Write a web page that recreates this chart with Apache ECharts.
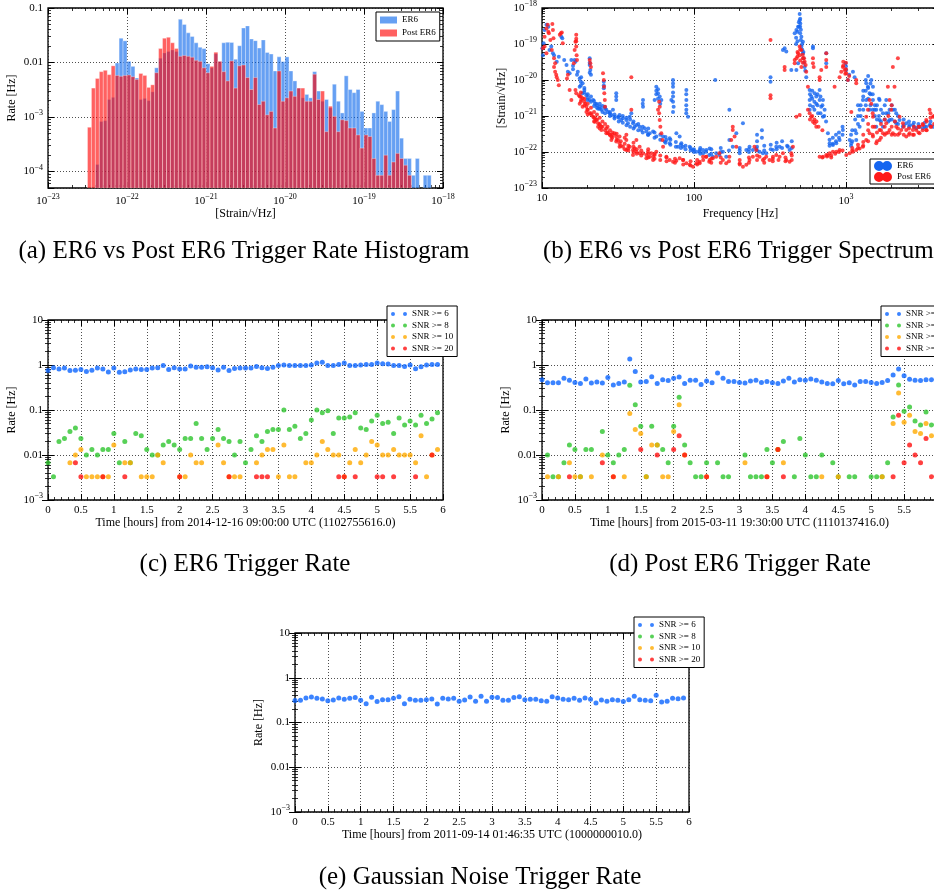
<!DOCTYPE html>
<html>
<head>
<meta charset="utf-8">
<script src="https://cdn.jsdelivr.net/npm/echarts@6/dist/echarts.min.js"></script>
<style>
html, body { margin: 0; padding: 0; background: #fff; }
#main { width: 934px; height: 892px; }
</style>
</head>
<body>
<div id="main"></div>
<script>
var SERIF = '"Liberation Serif", "Times New Roman", serif';

// (a) trigger rate histogram: log10 bins starting at -22.5, 0.05 decade wide
var histLogStart = -22.5;
var histLogStep = 0.05;
var histER6 = [0, 0, 1.35e-4, 8.3e-4, 8.6e-4, 2.1e-3, 2.3e-3, 9.8e-3, 2.8e-2, 2.5e-2,
  1.05e-2, 8.5e-3, 5.2e-3, 2.1e-3, 2.2e-3, 2.0e-3, 2.9e-3, 8.0e-3, 1.2e-2, 1.5e-2,
  1.6e-2, 1.7e-2, 1.6e-2, 6.2e-2, 5.0e-2, 3.5e-2, 3.0e-2, 2.3e-2, 1.9e-2, 1.8e-2,
  9.5e-3, 8e-3, 1.45e-2, 1.05e-2, 2.3e-2, 2.35e-2, 0.0234, 0.0115, 0.0203, 0.043,
  0.047, 0.027, 0.0252, 0.0184, 0.026, 0.0153, 0.0143, 0.007, 0.0127, 0.0104,
  0.0127, 0.007, 0.0046, 0.0034, 0.00225, 0.0026, 0.00225, 0.0068, 0.003, 0.00195,
  0.0021, 0.00147, 0.004, 0.00195, 0.00119, 0.0057, 0.0032, 0.0028, 0.0032, 0.00127,
  0.00063, 0.00063, 0.00119, 0.00195, 0.00169, 0.00127, 0.00083, 0.00137, 0.003, 0.00041,
  0.000174, 0.000174, 0.0000855, 0.000174, 0, 0.0000855, 0.0000855, 0];
var histPost = [6.5e-4, 3.4e-3, 5.1e-3, 6.8e-3, 7.2e-3, 6.0e-3, 8.7e-3, 5.8e-3, 5.6e-3, 5.8e-3,
  5.9e-3, 5.5e-3, 4.9e-3, 6.3e-3, 5.8e-3, 3.5e-3, 3.9e-3, 6.5e-3, 1.8e-2, 2.8e-2,
  2.9e-2, 2.3e-2, 1.8e-2, 1.3e-2, 1.35e-2, 1.3e-2, 1.25e-2, 1.1e-2, 1.05e-2, 8e-3,
  6.5e-3, 8.5e-3, 1.55e-2, 1.05e-2, 6.8e-3, 4.6e-3, 0.0107, 0.0034, 0.0087, 0.009,
  0.0053, 0.0032, 0.0053, 0.0017, 0.00195, 0.0011, 0.00127, 0.00063, 0.007, 0.00195,
  0.00225, 0.003, 0.0024, 0.0034, 0.0034, 0.00195, 0.00195, 0.0061, 0.0021, 0.003,
  0.00054, 0.00158, 0.00103, 0.00054, 0.00089, 0.00086, 0.00063, 0.00063, 0.00047, 0.00027,
  0.00047, 0.00044, 0.000174, 0.0000855, 0.0000855, 0.0002, 0.0000855, 0.00015, 0.000216, 0.000174,
  0.000131, 0.0000855, 0, 0, 0, 0, 0, 0];

// (b) trigger spectrum: [frequency Hz, strain/rtHz]
var specER6 = [
  [10.05,7.6e-20],[10.15,4.9e-20],[10.25,1.05e-19],[10.4,2.45e-19],[10.7,3.4e-19],[11.0,3.0e-19],[11.2,6.8e-20],[11.5,8.5e-20],
  [11.8,5.5e-20],[12.0,4.9e-20],[12.5,3.2e-20],[12.9,4.4e-20],[13.4,1.6e-19],[13.6,1.44e-19],[14.0,3.6e-20],[14.5,2.6e-20],
  [14.8,1.7e-20],[15.2,1.55e-20],[15.6,3.6e-20],[16.4,3.6e-20],[16.6,3.2e-20],[17.2,1.7e-20],[17.7,1.1e-20],[18.1,1.2e-20],
  [18.5,8.1e-21],[19.0,5.3e-21],[19.6,3.8e-21],[19.9,2.8e-21],[20.6,4.0e-20],[20.6,2.6e-20],[20.8,1.9e-20],[21.0,1.4e-20],
  [21.7,2.8e-21],[22.8,2.2e-21],[24.0,1.8e-21],[24.6,1.5e-21],[25.5,8.9e-21],[25.5,5.9e-21],[25.9,1.8e-21],[26.5,1.5e-21],
  [27.9,1.2e-21],[28.6,1.07e-21],[29.3,1.5e-21],[30.8,4.3e-21],[30.8,2.8e-21],[31.6,9.6e-22],[32.4,1.07e-21],[34.1,8.7e-22],
  [35.9,7.8e-22],[37.8,9.6e-22],[38.7,1.2e-21],[39.7,6.3e-22],[41.8,5.6e-22],[43.9,5.0e-22],[46.2,2.8e-21],[46.2,1.8e-21],
  [47.4,4.6e-22],[48.6,3.7e-22],[51.1,3.3e-22],[53.8,3.7e-22],[55.1,2.8e-21],[56.5,6.5e-21],[58.0,4.3e-21],[59.5,3.5e-21],
  [61.0,2.8e-21],[62.6,2.7e-22],[65.8,2.15e-22],[69.2,2.4e-22],[71.0,2.8e-21],[72.8,1.0e-20],[72.8,6.5e-21],[72.8,3.5e-21],
  [73.5,1.8e-21],[76.6,3.3e-22],[80.5,2.7e-22],[82.6,1.75e-22],[84.7,1.4e-22],[89.1,5.3e-21],[89.1,2.8e-21],[89.1,1.5e-21],
  [91.4,9.6e-22],[93.7,1.4e-22],[98.6,1.14e-22],[109,1.02e-22],[120.6,1.14e-22],[126.8,1.26e-22],
  [17.7,6.5e-21],[18.5,4.3e-21],[20.6,2.8e-21],[22.3,2.2e-21],[23.4,1.6e-21],[27.2,1.3e-21],[30.0,9.6e-22],[33.2,7.8e-22],
  [36.8,6.3e-22],[40.7,5.0e-22],[45.0,4.1e-22],[49.8,3.0e-22],[56.5,2.7e-22],[64.2,1.95e-22],[69.2,1.75e-22],[78.5,1.4e-22],
  [103.7,1.02e-22],[114.7,1.14e-22],
  [109,1.14e-22],[115,9.2e-23],[120,1.02e-22],[126,8.3e-23],[133,7.4e-23],[138,1.0e-20],[140,9.2e-23],[147,8.3e-23],
  [155,1.02e-22],[163,7.4e-23],[171,1.5e-21],[171,2.15e-22],[180,1.4e-22],[190,3.3e-22],[200,9.2e-23],[210,6.3e-22],
  [221,1.14e-22],[232,1.4e-22],[244,1.14e-22],[257,1.26e-22],[270,1.02e-22],[284,9.2e-23],[299,9.2e-23],[319,1.2e-20],
  [319,8.9e-21],[331,1.14e-22],[348,1.4e-22],[366,1.4e-22],[385,6.8e-20],[395,7.6e-20],[405,6.2e-20],[415,1.4e-22],
  [426,1.14e-22],[437,1.9e-20],[460,2.0e-19],[472,2.45e-19],[484,3.0e-19],[496,6.8e-19],[496,4.6e-19],[501,3.7e-19],
  [509,1.6e-19],[509,8.5e-20],[521,1.16e-19],[521,5.5e-20],[535,2.3e-20],[548,1.2e-20],[472,1.9e-20],[484,2.9e-20],
  [577,5.3e-21],[577,2.8e-21],[592,3.5e-21],[607,8.5e-20],[607,7.6e-20],[622,4.3e-21],[638,2.2e-21],[671,2.8e-21],
  [688,1.8e-21],[706,9.6e-22],[742,5.5e-20],[742,2.9e-20],[761,3.3e-22],[781,1.75e-22],[821,1.56e-22],[864,1.75e-22],
  [908,2.15e-22],[955,4.1e-22],[993,2.9e-20],[1005,1.9e-20],[1030,1.0e-20],[1058,2.15e-22],[1085,1.75e-22],[1112,1.7e-20],
  [1140,1.2e-20],[1169,3.3e-22],[1230,1.5e-21],[1293,2.8e-21],[1360,8.1e-21],[1395,6.5e-21],[1431,4.3e-21],[1469,1.0e-20],
  [1506,2.8e-21],[1545,1.5e-21],[1583,5.0e-22],[1665,7.8e-22],[1751,5.0e-22],[1841,1.2e-21],[1936,7.8e-22],[2036,1.5e-21],
  [2142,1.2e-21],[2253,7.8e-22],[2493,6.3e-22],[2757,5.6e-22],[3051,5.0e-22],[3375,5.0e-22],[3735,5.0e-22],
  [577,1.5e-21],[607,1.8e-21],[638,3.5e-21],[655,1.2e-21],[671,5.3e-21],[706,2.8e-21],[724,1.5e-21],
  [1169,2.15e-22],[1230,5.0e-22],[1293,7.8e-22],[1360,2.8e-21],[1431,1.5e-21],[1506,6.5e-21],[1583,1.5e-21],[1665,2.8e-21],
  [1751,1.2e-21],[1841,2.8e-21],[1936,1.5e-21],[2142,6.3e-22],[2370,5.0e-22],[2622,5.6e-22],[2901,4.6e-22],[3209,4.6e-22],
  [3551,5.6e-22]
];
// denser parts of the ER6 cloud (lower band, lines, 500 Hz peak, 1-2 kHz band)
var specER6Band = [
  [16,2.5e-20],[16,2.0e-20],[17,1.4e-20],[18,9e-21],[18,7e-21],[19,6e-21],[19,4.5e-21],[20,4e-21],[20,3.2e-21],
  [21,3.5e-21],[21,2.5e-21],[22,2.6e-21],[22,1.9e-21],[23,2e-21],[23,1.7e-21],[24,1.6e-21],[24,2.2e-21],[25,1.3e-21],
  [25,1.9e-21],[26,1.2e-21],[26,1.6e-21],[28,1e-21],[28,1.3e-21],[30,8.5e-22],[30,1.1e-21],[32,7e-22],[32,9e-22],
  [34,6.5e-22],[34,1e-21],[36,5.5e-22],[36,9e-22],[38,5e-22],[38,8e-22],[40,4.5e-22],[40,7e-22],[43,4e-22],[43,6e-22],
  [46,3.5e-22],[46,5e-22],[50,3e-22],[50,4.5e-22],[55,2.5e-22],[55,3.5e-22],[60,2.2e-22],[60,3e-22],[65,1.8e-22],
  [65,2.6e-22],[70,1.6e-22],[70,2.2e-22],[76,1.4e-22],[76,1.9e-22],[82,1.3e-22],[82,1.6e-22],[88,1.2e-22],[88,1.5e-22],
  [95,1.1e-22],[95,1.3e-22],[100,1e-22],[100,1.2e-22],
  [56.5,4e-21],[56.5,5e-21],[58,5.5e-21],[58,3e-21],[60,2.2e-21],[72.8,8e-21],[72.8,4.5e-21],[72.8,2.5e-21],[72.8,1.3e-21],
  [89,4e-21],[89,2e-21],[89,1.2e-21],[46,2.2e-21],[25.5,7e-21],[20.6,3e-20],[20.6,1.6e-20],[30.8,3.5e-21],
  [110,9e-23],[110,1.3e-22],[130,9e-23],[130,1.2e-22],[150,1e-22],[150,1.3e-22],[170,1.1e-22],[200,1.1e-22],[200,1.3e-22],
  [230,1e-22],[230,1.2e-22],[260,1.1e-22],[260,1.4e-22],[290,1.1e-22],[290,1.5e-22],[320,1.2e-22],[320,1.6e-22],
  [350,1.2e-22],[350,1.8e-22],[380,1.3e-22],[380,2e-22],[410,1.5e-22],[440,1.3e-22],[440,2e-22],
  [260,2e-22],[260,3e-22],[280,2.5e-22],[280,4e-22],
  [470,1e-19],[470,1.5e-19],[480,1.2e-19],[480,2.2e-19],[490,3e-19],[490,4e-19],[500,5e-19],[500,3e-19],[500,2e-19],
  [505,2.5e-19],[505,1.3e-19],[515,7e-20],[515,1e-19],[525,4e-20],[525,6e-20],[530,3e-20],[540,1.8e-20],
  [580,2e-21],[580,4e-21],[600,3e-21],[600,5e-21],[620,2.5e-21],[620,1.5e-21],[650,2e-21],[650,4e-21],[680,1.2e-21],
  [680,3.5e-21],[700,2e-21],[720,1e-21],[740,7e-22],
  [780,1.5e-22],[780,2.2e-22],[820,1.7e-22],[820,2.5e-22],[860,2e-22],[860,3e-22],[900,2.5e-22],[900,3.5e-22],
  [950,3e-22],[950,5e-22],[1000,2.4e-20],[1050,1.4e-20],[1080,1.5e-22],[1080,3e-22],[1100,2e-22],[1100,4e-22],
  [1150,4e-22],[1150,8e-22],[1200,6e-22],[1200,1e-21],[1200,2e-21],[1250,1e-21],[1250,2e-21],[1300,1.5e-21],
  [1300,3.5e-21],[1300,5e-21],[1350,2e-21],[1350,5e-21],[1350,1e-20],[1400,3e-21],[1400,6e-21],[1400,1.3e-20],
  [1450,2e-21],[1450,4e-21],[1450,8e-21],[1500,1.5e-21],[1500,4e-21],[1550,1e-21],[1550,2e-21],[1600,8e-22],
  [1600,2e-21],[1650,1e-21],[1650,3e-21],[1700,7e-22],[1700,1.5e-21],[1800,8e-22],[1800,2e-21],[1900,7e-22],
  [1900,1.2e-21],[2000,8e-22],[2000,2e-21],[2100,7e-22],[2100,1.5e-21],[2200,6e-22],[2200,1e-21],[2400,5.5e-22],
  [2400,8e-22],[2600,5e-22],[2600,7e-22],[2800,5e-22],[2800,6.5e-22],[3000,5e-22],[3000,6e-22],[3300,5e-22],
  [3300,6.5e-22],[3600,5.5e-22],[3600,7e-22],[3900,6e-22]
];
var specPost = [
  [10.15,7.6e-20],[10.4,1.6e-19],[10.7,2.7e-19],[10.9,3.4e-19],[11.0,2.2e-19],[11.1,2.0e-19],[11.35,1.3e-19],[11.6,6.8e-20],
  [11.7,3.6e-19],[11.8,2.45e-19],[11.9,1.44e-19],[12.0,2.3e-20],[12.2,1.7e-20],[12.4,1.4e-20],[12.5,1.2e-20],[12.7,1.0e-20],
  [12.9,7.2e-21],[13.1,1.8e-19],[13.3,2.0e-19],[13.5,2.1e-19],[13.7,1.05e-19],[14.6,1.1e-20],[14.8,1.4e-20],[15.2,5.3e-21],
  [15.6,2.8e-21],[16.2,2.9e-20],[16.4,6.8e-20],[16.6,1.16e-19],[16.8,1.8e-19],[16.8,8.5e-20],[16.9,4.9e-20],[17.0,3.6e-20],
  [16.6,5.3e-21],[16.8,4.3e-21],[17.5,3.8e-21],[17.7,3.5e-21],[18.1,2.8e-21],[18.5,3.1e-21],[19.0,2.5e-21],[19.3,2.2e-21],
  [19.6,1.8e-21],[19.9,1.5e-21],[20.6,3.6e-20],[20.8,2.9e-20],[21.0,2.3e-20],[20.6,1.2e-21],[21.7,9.6e-22],[22.3,8.7e-22],
  [22.8,7.8e-22],[23.4,6.3e-22],[24.0,5.6e-22],[24.6,5.0e-22],[25.2,1.55e-20],[25.5,1.0e-20],[25.6,6.5e-21],[25.7,4.3e-21],
  [25.9,2.8e-21],[26.0,1.8e-21],[26.5,4.6e-22],[27.2,3.3e-22],[27.9,3.0e-22],[28.6,2.7e-22],[29.3,3.0e-22],[30.0,3.3e-22],
  [30.8,2.7e-22],[31.6,2.15e-22],[32.4,1.75e-22],[34.1,1.4e-22],[35.9,2.15e-22],[36.8,1.26e-22],[37.8,1.4e-22],[38.7,1.2e-20],
  [38.7,1.5e-21],[39.7,1.14e-22],[40.7,1.26e-22],[41.8,1.02e-22],[43.9,1.4e-22],[46.2,9.2e-23],[48.6,8.3e-23],[49.8,1.02e-22],
  [51.1,7.4e-23],[52.4,9.2e-23],[53.8,7.4e-23],[55.1,8.3e-23],[56.5,1.02e-22],[58.0,1.5e-21],[59.5,1.8e-21],[59.5,7.8e-22],
  [60.1,5.0e-22],[61.0,3.3e-22],[62.0,2.15e-22],[62.6,1.4e-22],[65.8,7.4e-23],[69.2,6.0e-23],[72.8,5.4e-23],[76.6,5.7e-23],
  [80.5,6.7e-23],[84.7,6.0e-23],[89.1,4.9e-23],[93.7,4.4e-23],[98.6,3.9e-23],[103.7,4.9e-23],[109,5.4e-23],[114.7,7.4e-23],
  [120.6,7.4e-23],[126.8,6.0e-23],
  [17.7,2.2e-21],[18.5,1.8e-21],[19.6,1.3e-21],[21.2,1.07e-21],[22.3,6.9e-22],[23.4,5.0e-22],[24.6,4.1e-22],[26.5,3.3e-22],
  [28.6,2.15e-22],[30.8,1.95e-22],[32.4,1.4e-22],[35.9,1.14e-22],[39.7,8.3e-23],[43.9,9.2e-23],[48.6,6.7e-23],[53.8,6.0e-23],
  [32.4,2.7e-22],[35.9,3.0e-22],[41.8,2.15e-22],[10.4,8.5e-20],[10.7,5.5e-20],[12.0,4.0e-20],[12.2,2.9e-20],
  [109,4.9e-23],[115,6.0e-23],[120,7.4e-23],[126,5.4e-23],[133,6.7e-23],[140,7.4e-23],[147,9.2e-23],[155,6.0e-23],
  [163,4.9e-23],[171,7.4e-23],[176,2.15e-22],[180,4.1e-22],[180,5.0e-22],[185,2.7e-22],[190,1.4e-22],[200,4.9e-23],
  [210,3.9e-23],[221,4.4e-23],[232,6.0e-23],[244,7.4e-23],[250,1.4e-22],[257,1.14e-22],[270,7.4e-23],[284,6.0e-23],
  [299,7.4e-23],[314,6.0e-23],[319,1.3e-19],[319,3.8e-21],[319,3.1e-21],[331,7.4e-23],[348,8.3e-23],[366,7.4e-23],
  [385,9.2e-23],[395,2.3e-20],[395,1.9e-20],[405,6.0e-23],[426,5.4e-23],[437,9.2e-23],[448,1.4e-22],[460,2.9e-20],
  [460,3.6e-20],[472,4.0e-20],[484,5.5e-20],[496,8.5e-20],[496,4.9e-20],[509,6.8e-20],[509,2.3e-20],[521,4.0e-20],
  [535,3.2e-20],[543,2.6e-20],[548,1.7e-20],[562,6.5e-21],[472,9.6e-22],[496,1.07e-21],[562,1.5e-21],[577,1.2e-21],
  [592,9.6e-22],[607,6.9e-22],[622,6.3e-22],[638,5.0e-22],[607,4.0e-20],[607,2.9e-20],[613,2.3e-20],[671,1.0e-20],
  [671,1.2e-20],[688,1.9e-20],[742,5.5e-20],[742,3.6e-20],[742,2.3e-20],[671,7.4e-23],[706,7.4e-23],[742,8.3e-23],
  [781,9.2e-23],[821,1.02e-22],[842,6.5e-21],[864,1.02e-22],[908,1.14e-22],[908,1.2e-20],[931,1.7e-20],[955,2.3e-20],
  [960,3.2e-20],[980,1.9e-20],[1005,1.55e-20],[1030,1.0e-20],[1058,9.2e-23],[1085,1.3e-21],[1112,1.02e-22],[1169,1.0e-20],
  [1169,8.1e-21],[1169,1.14e-22],[1230,1.26e-22],[1293,1.4e-22],[1360,9.6e-22],[1395,1.5e-21],[1431,2.8e-21],[1469,2.2e-21],
  [1506,9.6e-22],[1545,5.0e-22],[1583,1.75e-22],[1665,2.15e-22],[1751,3.3e-22],[1841,6.3e-22],[1888,6.5e-21],[1936,2.8e-21],
  [1985,1.5e-21],[2036,2.3e-20],[2088,6.5e-21],[2142,5.0e-22],[2197,4.0e-20],[2253,9.6e-22],[2311,4.1e-22],[2370,6.3e-22],
  [2493,4.1e-22],[2622,3.3e-22],[2757,4.1e-22],[2901,4.1e-22],[3051,5.0e-22],[3209,5.6e-22],[3375,7.8e-22],[3551,1.5e-21],
  [3735,9.6e-22],
  [1360,2.15e-22],[1431,3.3e-22],[1506,2.7e-22],[1665,4.1e-22],[1841,3.3e-22],[1936,4.1e-22],[2036,3.3e-22],[2253,3.3e-22],
  [2493,2.7e-22],[2757,3.0e-22],[3051,3.3e-22],[3375,4.1e-22],[3640,5.0e-22],[1005,8.3e-23],[800,7.0e-23],[760,8.0e-23]
];
// denser parts of the Post ER6 cloud
var specPostBand = [
  [18,2.5e-21],[18,3.5e-21],[18,4.5e-21],[19,2e-21],[19,3e-21],[20,1.5e-21],[20,2.2e-21],[20,1.1e-21],[21,1.2e-21],
  [21,1.7e-21],[22,9e-22],[22,1.3e-21],[22,7e-22],[23,8e-22],[23,1.1e-21],[24,6e-22],[24,9e-22],[24,4.5e-22],[25,5e-22],
  [25,7e-22],[26,4e-22],[26,6e-22],[27,3.5e-22],[27,5e-22],[28,3e-22],[28,4e-22],[29,2.5e-22],[29,3.5e-22],[31,2.2e-22],
  [31,3.2e-22],[33,2e-22],[33,1.5e-22],[35,1.7e-22],[35,1.2e-22],[35,2.5e-22],[37,1.5e-22],[37,1.1e-22],[40,1e-22],
  [40,1.4e-22],[40,1.8e-22],[42,9e-23],[42,1.2e-22],[45,8e-23],[45,1.1e-22],[50,7e-23],[50,9e-23],[50,1.2e-22],[55,6.5e-23],
  [55,9e-23],[60,6e-23],[60,8e-23],[66,5.5e-23],[66,7e-23],[75,5e-23],[75,6.5e-23],[85,4.5e-23],[85,6e-23],[95,4.2e-23],
  [95,5.5e-23],[105,4.5e-23],[105,6e-23],
  [130,5e-23],[130,6.5e-23],[150,5e-23],[150,7e-23],[170,5.5e-23],[200,6e-23],[200,4.5e-23],[230,5e-23],[230,7e-23],
  [260,6e-23],[260,8e-23],[290,5e-23],[290,6.5e-23],[330,5.5e-23],[330,6.5e-23],[360,6e-23],[400,7e-23],[400,5.5e-23],
  [440,6e-23],[440,8e-23],[59,1.2e-21],[59,2.5e-21],[16.8,1.2e-19],[16.8,1.4e-19],
  [1100,1.1e-22],[1100,1.3e-22],[1200,1.3e-22],[1200,1.6e-22],[1300,1.5e-22],[1300,1.9e-22],[1300,3e-22],[1400,2e-22],
  [1400,4e-22],[1400,6e-22],[1500,3e-22],[1500,5e-22],[1500,1.2e-21],[1600,2e-22],[1600,3.5e-22],[1700,2.5e-22],
  [1700,4e-22],[1700,6e-22],[1800,3e-22],[1800,5e-22],[1800,8e-22],[1900,3.5e-22],[1900,1e-21],[2000,3e-22],[2000,5e-22],
  [2000,2e-21],[2100,3e-22],[2100,7e-22],[2200,3e-22],[2200,4.5e-22],[2400,3e-22],[2400,5e-22],[2600,3e-22],[2600,4.5e-22],
  [2800,3e-22],[2800,5e-22],[3000,3.5e-22],[3000,5e-22],[3200,4e-22],[3200,6e-22],[3400,4e-22],[3400,7e-22],[3600,5e-22],
  [3600,9e-22],[3600,1.2e-21],[3800,6e-22],[3800,1e-21],
  [700,7e-23],[750,7.5e-23],[800,8e-23],[850,9e-23],[900,1e-22],[950,1.1e-22],
  [480,4.5e-20],[480,6e-20],[500,7e-20],[500,3.5e-20],[520,3e-20],[520,5e-20],[530,4e-20],
  [580,8e-22],[600,1e-21],[620,8e-22],[640,7e-22],[660,5e-22],[700,4e-22],
  [960,2.5e-20],[1000,2e-20],[1000,3e-20],[1050,1.3e-20],[990,1.5e-20]
];

// (c)-(e) rates [Hz] in 5 minute bins over 6 hours (null = no trigger)
var binHours = 5 / 60;
var c_snr6 = [0.75,0.87,0.81,0.86,0.75,0.76,0.79,0.72,0.76,0.86, 0.81,0.70,0.86,0.69,0.71,0.77,0.81,0.79,0.79,0.86,
  0.87,0.98,0.79,0.87,0.81,0.81,0.95,0.89,0.89,0.92, 0.87,0.77,0.89,0.75,0.84,0.86,0.86,0.86,0.93,0.87,
  0.84,0.89,0.97,1.0,0.98,0.98,0.98,0.97,1.0,1.11, 1.15,0.98,0.98,1.03,1.11,0.97,0.97,1.0,1.02,1.03,
  1.11,1.07,1.05,0.97,0.98,0.93,1.0,0.83,0.92,1.0, 1.02,1.02];
var c_snr8 = [0.0067,0.0033,0.02,0.0233,0.0333,0.04,0.0233,0.01,0.0133,0.01, 0.0133,0.0133,0.03,0.0067,0.02,0.0067,0.03,0.0267,0.0133,0.01,
  0.01,0.0167,0.02,0.0167,0.0133,0.0233,0.0233,0.05,0.0233,0.0133, 0.0233,0.0367,0.0233,0.02,0.01,0.02,0.0067,0.0133,0.0267,0.02,
  0.0333,0.0367,0.0367,0.1,0.0367,0.0433,0.0233,0.03,0.06,0.1, 0.0867,0.0967,0.03,0.0667,0.0667,0.07,0.0867,0.04,0.0367,0.0567,
  0.0767,0.05,0.0533,0.03,0.0667,0.0467,0.0567,0.0467,0.0767,0.05, 0.0633,0.0867];
var c_snr10 = [null,null,null,null,0.0067,0.01,0.0133,0.0033,0.0033,0.0033, 0.0033,0.0033,0.0167,null,0.0067,0.0067,null,0.0033,0.0033,0.0033,
  0.01,0.0067,null,null,0.0033,0.0033,0.01,0.0067,0.0067,null, null,0.0167,0.0067,0.0033,0.0033,0.0033,null,null,0.0067,0.01,
  0.0133,0.0133,0.0033,0.0167,0.0033,0.0033,null,0.0067,0.0067,0.01, 0.02,0.0133,0.01,0.01,0.0033,0.0067,0.0133,0.0067,0.01,0.02,
  0.0167,0.01,0.01,0.0133,0.01,0.01,0.01,0.0067,0.0267,0.0033, 0.01,0.0133];
var c_snr20 = [null,null,null,null,null,0.0067,0.0033,null,null,null, 0.0033,null,null,null,0.0033,null,null,null,null,null,
  null,null,null,null,0.0033,null,null,null,null,null, null,null,null,0.0033,null,null,null,null,0.0033,0.0033,
  0.0033,null,null,null,null,null,null,null,null,null, null,null,null,0.0033,0.0033,null,0.0033,null,null,null,
  0.0033,0.0033,null,0.0033,null,null,null,0.0033,null,null, 0.01,null];

var d_snr6 = [0.47,0.405,0.405,0.405,0.51,0.46,0.41,0.39,0.49,0.40, 0.42,0.40,0.53,0.36,0.39,0.42,1.36,0.72,0.42,0.43,
  0.55,0.39,0.47,0.45,0.51,0.54,0.39,0.46,0.46,0.37, 0.44,0.405,0.66,0.51,0.43,0.43,0.41,0.40,0.44,0.46,
  0.41,0.43,0.405,0.39,0.44,0.51,0.42,0.47,0.46,0.49, 0.46,0.42,0.39,0.385,0.45,0.385,0.405,0.36,0.43,0.43,
  0.41,0.39,0.41,0.45,0.6,0.81,0.58,0.48,0.46,0.45, 0.47,0.47];
var d_snr8 = [null,0.01,0.0033,0.0033,0.0067,0.0167,0.0133,0.0033,0.0133,0.0133, null,0.0333,0.01,0.0067,0.01,0.0133,0.353,0.13,0.0433,0.0033,
  0.0433,0.0167,0.0133,0.0067,0.0433,0.193,0.0167,0.0067,0.0033,0.0033, 0.0067,null,0.0067,0.0033,0.0033,null,null,0.01,0.0033,0.0033,
  0.0033,0.0133,0.0067,0.0133,0.02,null,0.0033,0.0233,0.01,0.0033, 0.0033,0.01,null,0.0067,0.0033,null,0.0033,0.0033,null,null,
  0.0033,0.0033,0.0033,0.0067,0.07,0.36,0.0933,0.117,0.0567,0.0467, 0.09,0.0467];
var d_snr10 = [null,0.0033,null,0.0033,null,0.0067,0.0033,0.0033,null,0.0033, null,0.01,null,0.0033,null,0.0033,0.0833,0.0367,0.03,0.0033,
  0.0167,0.0167,0.0033,0.0033,0.0333,0.13,0.01,null,null,null, 0.0033,null,null,null,null,null,null,0.0067,null,null,
  null,0.0033,null,0.0133,0.0067,null,null,null,null,null, null,0.0033,null,null,0.0033,null,null,null,null,null,
  null,null,0.0033,null,0.05,0.24,0.0533,0.0767,0.0333,0.03, 0.05,0.0267];
var d_snr20 = [null,null,null,null,null,0.0033,null,null,null,null, null,0.0067,null,0.0033,null,null,null,null,0.0133,null,
  null,0.01,null,null,0.0133,0.0267,0.01,null,null,null, 0.0033,null,null,null,null,null,null,null,null,null,
  null,0.0033,null,0.0133,0.0033,null,null,null,null,null, null,null,null,null,null,null,null,null,null,null,
  null,null,null,null,0.0033,0.0767,0.0067,0.0167,0.01,0.0067, 0.0233,0.0033];

var e_snr6 = [0.31,0.313,0.353,0.372,0.347,0.336,0.308,0.319,0.353,0.33, 0.347,0.36,0.313,0.264,0.366,0.293,0.324,0.324,0.347,0.378,
  0.264,0.33,0.313,0.313,0.324,0.336,0.26,0.347,0.336,0.347, 0.30,0.319,0.372,0.30,0.385,0.30,0.366,0.36,0.313,0.313,
  0.36,0.378,0.324,0.33,0.33,0.308,0.30,0.378,0.353,0.33, 0.324,0.347,0.313,0.353,0.33,0.273,0.319,0.30,0.324,0.313,
  0.293,0.324,0.385,0.324,0.313,0.308,0.405,0.288,0.30,0.347, 0.34,0.353];
var e_snr8 = [];
var e_snr10 = [];
var e_snr20 = [];

var snrNames = ['SNR >= 6', 'SNR >= 8', 'SNR >= 10', 'SNR >= 20'];
var snrColors = ['#0a64ff', '#2ec52e', '#ffaa00', '#ff1010'];
var specColors = ['#1565f0', '#ff1a1a'];

// strain axes are plotted in units of 1e-23 (ECharts rounds away ticks as small as 1e-23)
var STRAIN_UNIT = 1e-23;
var STRAIN_EXP = -23;

var myChart = echarts.init(document.getElementById('main'), null, {renderer: 'canvas'});

function expStr(e) { return e < 0 ? '\u2212' + (-e) : String(e); }
var labelRich = {
  b: {fontFamily: SERIF, fontSize: 11, color: '#000'},
  s: {fontFamily: SERIF, fontSize: 8, color: '#000', padding: [0, 0, 8, 0]}
};
// 10^n labels, plain decimals between plainFrom and plainTo
function logFmt(plainFrom, plainTo, shift) {
  return function (v) {
    var e = Math.round(Math.log(v) / Math.LN10) + (shift || 0);
    if (e >= plainFrom && e <= plainTo) {
      return '{b|' + (e >= 0 ? String(Math.pow(10, e)) : Math.pow(10, e).toFixed(-e)) + '}';
    }
    return '{b|10}{s|' + expStr(e) + '}';
  };
}

var gridLine = {show: true, lineStyle: {color: '#222', width: 0.8, type: [1, 2]}};
function axis(o) {
  var a = {
    gridIndex: o.grid, type: o.type, position: o.pos, min: o.min, max: o.max,
    axisLine: {show: false},
    axisTick: {show: true, inside: true, length: 6, lineStyle: {color: '#000', width: 1}},
    minorTick: {show: true, splitNumber: o.minor, length: 3, lineStyle: {color: '#000', width: 0.8}},
    splitLine: o.main ? gridLine : {show: false},
    axisLabel: {show: false}
  };
  if (o.type === 'log') a.logBase = 10;
  if (o.interval) a.interval = o.interval;
  if (o.main) {
    a.axisLabel = {show: true, margin: o.margin || 5, fontFamily: SERIF, fontSize: 11, color: '#000',
      rich: labelRich, formatter: o.fmt, showMinLabel: o.hideMin ? false : null, showMaxLabel: o.hideMax ? false : null};
  }
  if (o.name) {
    a.name = o.name;
    a.nameLocation = 'middle';
    a.nameGap = o.nameGap;
    a.nameTextStyle = {fontFamily: SERIF, fontSize: 12, color: '#000'};
  }
  return a;
}

var grids = [
  {left: 48, top: 8, width: 395, height: 180},
  {left: 542, top: 8, width: 397, height: 180},
  {left: 48, top: 320, width: 395, height: 180},
  {left: 542, top: 320, width: 395, height: 180},
  {left: 295, top: 633, width: 394, height: 179}
].map(function (g) {
  g.show = true; g.borderColor = '#000'; g.borderWidth = 1.3; g.backgroundColor = 'transparent';
  g.containLabel = false; g.outerBoundsMode = 'none';
  return g;
});

var sMin = 1e-23 / STRAIN_UNIT, sMax = 1e-18 / STRAIN_UNIT;
var timeLabel = function (v) { return '{b|' + v + '}'; };
var xAxes = [
  axis({grid: 0, type: 'log', pos: 'bottom', min: sMin, max: sMax, minor: 9, main: true, fmt: logFmt(99, 99, STRAIN_EXP),
    name: '[Strain/\u221AHz]', nameGap: 19}),
  axis({grid: 0, type: 'log', pos: 'top', min: sMin, max: sMax, minor: 9}),
  axis({grid: 1, type: 'log', pos: 'bottom', min: 10, max: 4096, minor: 9, main: true, fmt: logFmt(1, 2), hideMax: true,
    name: 'Frequency [Hz]', nameGap: 19}),
  axis({grid: 1, type: 'log', pos: 'top', min: 10, max: 4096, minor: 9})
];
var yAxes = [
  axis({grid: 0, type: 'log', pos: 'left', min: 5e-5, max: 0.1, minor: 9, main: true, fmt: logFmt(-2, 0), hideMin: true,
    name: 'Rate [Hz]', nameGap: 30}),
  axis({grid: 0, type: 'log', pos: 'right', min: 5e-5, max: 0.1, minor: 9}),
  axis({grid: 1, type: 'log', pos: 'left', min: sMin, max: sMax, minor: 9, main: true, fmt: logFmt(99, 99, STRAIN_EXP),
    name: '[Strain/\u221AHz]', nameGap: 34}),
  axis({grid: 1, type: 'log', pos: 'right', min: sMin, max: sMax, minor: 9})
];
var timeNames = [
  'Time [hours] from 2014-12-16 09:00:00 UTC (1102755616.0)',
  'Time [hours] from 2015-03-11 19:30:00 UTC (1110137416.0)',
  'Time [hours] from 2011-09-14 01:46:35 UTC (1000000010.0)'
];
[2, 3, 4].forEach(function (g, i) {
  // panel (d) runs off the right edge of the page, its last label is not shown
  xAxes.push(axis({grid: g, type: 'value', pos: 'bottom', min: 0, max: 6, interval: 0.5, minor: 5, main: true,
    fmt: timeLabel, name: timeNames[i], nameGap: 17, hideMax: g === 3}));
  xAxes.push(axis({grid: g, type: 'value', pos: 'top', min: 0, max: 6, interval: 0.5, minor: 5}));
  yAxes.push(axis({grid: g, type: 'log', pos: 'left', min: 1e-3, max: 10, minor: 9, main: true, fmt: logFmt(-2, 1),
    name: 'Rate [Hz]', nameGap: 30}));
  yAxes.push(axis({grid: g, type: 'log', pos: 'right', min: 1e-3, max: 10, minor: 9}));
});

function histData(vals) {
  var out = [];
  vals.forEach(function (v, k) {
    if (!v) return;
    var lo = histLogStart + k * histLogStep - STRAIN_EXP;
    out.push([Math.pow(10, lo), Math.pow(10, lo + histLogStep), v]);
  });
  return out;
}
function histSeries(name, vals, fill) {
  return {
    type: 'custom', name: name, xAxisIndex: 0, yAxisIndex: 0, clip: true,
    itemStyle: {color: fill},
    encode: {x: [0, 1], y: 2},
    data: histData(vals),
    renderItem: function (params, api) {
      var p0 = api.coord([api.value(0), api.value(2)]);
      var p1 = api.coord([api.value(1), 5e-5]);
      return {type: 'rect', shape: {x: p0[0], y: p0[1], width: p1[0] - p0[0], height: p1[1] - p0[1]},
        style: {fill: fill, stroke: 'rgba(255,255,255,0.55)', lineWidth: 0.6}};
    }
  };
}
function specData(pts) {
  return pts.map(function (p) { return [p[0], p[1] / STRAIN_UNIT]; });
}
function timePoints(arr) {
  var out = [];
  arr.forEach(function (v, i) { if (v != null) out.push([i * binHours, v]); });
  return out;
}

var series = [
  histSeries('ER6', histER6, 'rgba(0,96,235,0.6)'),
  histSeries('Post ER6', histPost, 'rgba(255,0,0,0.62)'),
  {type: 'scatter', name: 'ER6', xAxisIndex: 2, yAxisIndex: 2, symbolSize: 4, data: specData(specER6.concat(specER6Band)),
    itemStyle: {color: specColors[0]}},
  {type: 'scatter', name: 'Post ER6', xAxisIndex: 2, yAxisIndex: 2, symbolSize: 4, data: specData(specPost.concat(specPostBand)),
    itemStyle: {color: specColors[1]}}
];
var rateSets = [
  [c_snr6, c_snr8, c_snr10, c_snr20],
  [d_snr6, d_snr8, d_snr10, d_snr20],
  [e_snr6, e_snr8, e_snr10, e_snr20]
];
rateSets.forEach(function (set, p) {
  set.forEach(function (arr, s) {
    series.push({type: 'scatter', name: snrNames[s], xAxisIndex: 4 + 2 * p, yAxisIndex: 4 + 2 * p,
      symbolSize: 5, data: timePoints(arr), itemStyle: {color: snrColors[s]}});
  });
});

var legendBase = {
  orient: 'vertical', selectedMode: false, borderColor: '#000', borderWidth: 1, borderRadius: 0,
  backgroundColor: '#fff', textStyle: {fontFamily: SERIF, fontSize: 9, color: '#000', lineHeight: 10}
};
var twoDots = 'path://M0,2a2,2 0 1,0 4,0a2,2 0 1,0 -4,0zM12,2a2,2 0 1,0 4,0a2,2 0 1,0 -4,0z';
var twoBig = 'path://M0,5a5,5 0 1,0 10,0a5,5 0 1,0 -10,0zM8,5a5,5 0 1,0 10,0a5,5 0 1,0 -10,0z';
function snrLegend(left, top) {
  return Object.assign({}, legendBase, {
    left: left, top: top, itemWidth: 16, itemHeight: 4, itemGap: 1.5, padding: [3, 4],
    data: snrNames.map(function (n, i) { return {name: n, icon: twoDots, itemStyle: {color: snrColors[i]}}; })
  });
}
var legends = [
  Object.assign({}, legendBase, {left: 376, top: 12, itemWidth: 17, itemHeight: 7, itemGap: 3, padding: [3, 4],
    data: [{name: 'ER6', icon: 'rect', itemStyle: {color: 'rgba(0,96,235,0.6)'}},
           {name: 'Post ER6', icon: 'rect', itemStyle: {color: 'rgba(255,0,0,0.62)'}}]}),
  Object.assign({}, legendBase, {left: 870, top: 159, itemWidth: 18, itemHeight: 10, itemGap: 1, padding: [2, 4],
    data: [{name: 'ER6', icon: twoBig, itemStyle: {color: specColors[0]}},
           {name: 'Post ER6', icon: twoBig, itemStyle: {color: specColors[1]}}]}),
  snrLegend(387, 306),
  snrLegend(881, 306),
  snrLegend(634, 617)
];

function caption(text, x, y, align) {
  return {type: 'text', x: x, y: y, silent: true,
    style: {text: text, fontFamily: SERIF, fontSize: 25, fill: '#000', align: align || 'center', verticalAlign: 'middle'}};
}

var option = {
  animation: false,
  backgroundColor: '#fff',
  grid: grids,
  xAxis: xAxes,
  yAxis: yAxes,
  legend: legends,
  series: series,
  graphic: [
    caption('(a) ER6 vs Post ER6 Trigger Rate Histogram', 244, 251),
    caption('(b) ER6 vs Post ER6 Trigger Spectrum', 543, 251, 'left'),
    caption('(c) ER6 Trigger Rate', 245, 564),
    caption('(d) Post ER6 Trigger Rate', 740, 564),
    caption('(e) Gaussian Noise Trigger Rate', 480, 877)
  ]
};

myChart.setOption(option);
</script>
</body>
</html>
